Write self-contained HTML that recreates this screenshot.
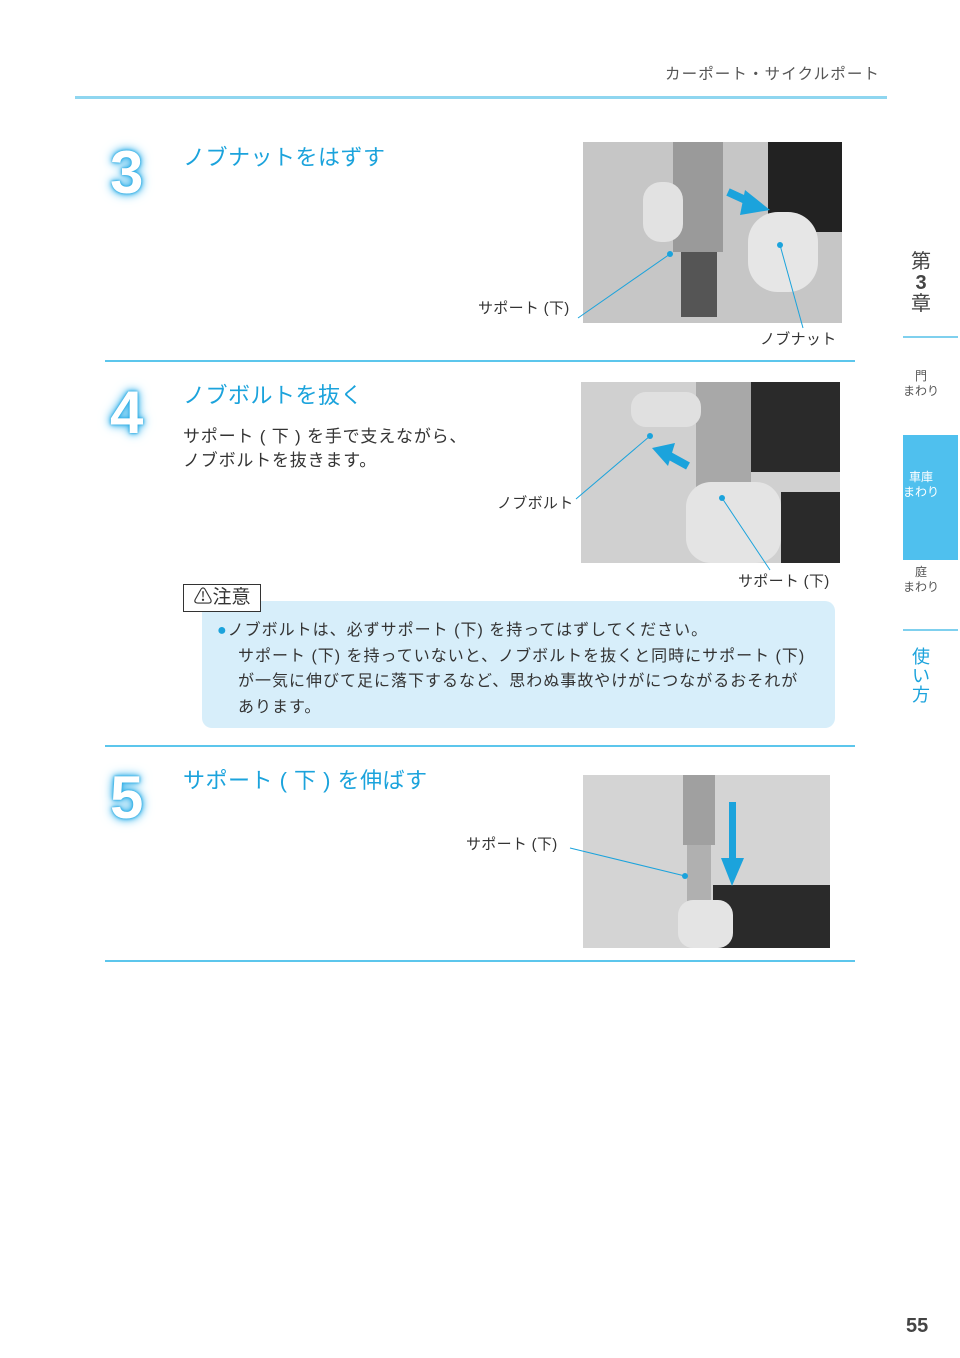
<!DOCTYPE html>
<html><head><meta charset="utf-8"><style>
body{margin:0;width:960px;height:1358px;background:#fff;position:relative;font-family:"Liberation Sans","Noto Sans CJK JP",sans-serif;color:#333;overflow:hidden}
.a{position:absolute;white-space:nowrap}
.num{position:absolute;font-size:60px;font-weight:900;color:#fff;text-shadow:0 0 2px #1ba3dc,0 0 4px #3fb6ec,0 0 8px #3fb6ec,0 0 12px #6cc8f0;font-family:"Liberation Sans",sans-serif;line-height:1}
.ttl{position:absolute;font-size:22px;color:#1ba3dc;white-space:nowrap;letter-spacing:0.5px}
.hl{position:absolute;left:105px;width:750px;height:2px;background:#5cc6ec}
.ph{position:absolute;background:#cfcfcf;overflow:hidden}
.lbl{position:absolute;font-size:15px;color:#333;white-space:nowrap;letter-spacing:0.3px}
</style></head><body>
<div class="a" style="left:665px;top:62px;font-size:15.5px;letter-spacing:1.1px;color:#555">カーポート・サイクルポート</div>
<div class="a" style="left:75px;top:96px;width:812px;height:3px;background:#8fd6f0"></div>

<div class="num" style="left:110px;top:143px">3</div>
<div class="ttl" style="left:183px;top:140px">ノブナットをはずす</div>
<div class="ph" style="left:583px;top:142px;width:259px;height:181px;background:#c6c6c6">
 <div class="a" style="left:90px;top:0;width:50px;height:110px;background:#9a9a9a"></div>
 <div class="a" style="left:98px;top:110px;width:36px;height:65px;background:#555"></div>
 <div class="a" style="left:185px;top:0;width:74px;height:90px;background:#222"></div>
 <div class="a" style="left:165px;top:70px;width:70px;height:80px;background:#e6e6e6;border-radius:30px"></div>
 <div class="a" style="left:60px;top:40px;width:40px;height:60px;background:#e2e2e2;border-radius:18px"></div>
</div>
<div class="lbl" style="left:478px;top:297px">サポート (下)</div>
<div class="lbl" style="left:760px;top:328px">ノブナット</div>
<div class="hl" style="top:360px"></div>

<div class="num" style="left:110px;top:383px">4</div>
<div class="ttl" style="left:183px;top:378px">ノブボルトを抜く</div>
<div class="a" style="left:183px;top:425px;font-size:17px;letter-spacing:0.8px;line-height:24px">サポート ( 下 ) を手で支えながら、<br>ノブボルトを抜きます。</div>
<div class="ph" style="left:581px;top:382px;width:259px;height:181px;background:#d0d0d0">
 <div class="a" style="left:115px;top:0;width:55px;height:110px;background:#a8a8a8"></div>
 <div class="a" style="left:170px;top:0;width:89px;height:90px;background:#2a2a2a"></div>
 <div class="a" style="left:200px;top:110px;width:59px;height:71px;background:#2a2a2a"></div>
 <div class="a" style="left:105px;top:100px;width:95px;height:81px;background:#e4e4e4;border-radius:25px"></div>
 <div class="a" style="left:50px;top:10px;width:70px;height:35px;background:#e0e0e0;border-radius:15px"></div>
</div>
<div class="lbl" style="left:497px;top:492px">ノブボルト</div>
<div class="lbl" style="left:738px;top:570px">サポート (下)</div>

<div class="a" style="left:202px;top:601px;width:633px;height:127px;background:#d7eefa;border-radius:10px"></div>
<div class="a" style="left:183px;top:584px;width:76px;height:26px;border:1px solid #333;background:#fff;font-size:19px;line-height:26px;text-align:center">⚠注意</div>
<div class="a" style="left:217px;top:618px;font-size:16px;letter-spacing:1px;line-height:25.5px;color:#333"><span style="color:#1ba3dc">●</span>ノブボルトは、必ずサポート (下) を持ってはずしてください。</div>
<div class="a" style="left:238px;top:643.5px;font-size:16px;letter-spacing:1px;line-height:25.5px;color:#333">サポート (下) を持っていないと、ノブボルトを抜くと同時にサポート (下)<br>が一気に伸びて足に落下するなど、思わぬ事故やけがにつながるおそれが<br>あります。</div>
<div class="hl" style="top:745px"></div>

<div class="num" style="left:110px;top:768px">5</div>
<div class="ttl" style="left:183px;top:763px">サポート ( 下 ) を伸ばす</div>
<div class="ph" style="left:583px;top:775px;width:247px;height:173px;background:#d4d4d4">
 <div class="a" style="left:100px;top:0;width:32px;height:70px;background:#a0a0a0"></div>
 <div class="a" style="left:104px;top:70px;width:24px;height:60px;background:#b0b0b0"></div>
 <div class="a" style="left:130px;top:110px;width:117px;height:63px;background:#2a2a2a"></div>
 <div class="a" style="left:95px;top:125px;width:55px;height:48px;background:#e4e4e4;border-radius:15px"></div>
</div>
<div class="lbl" style="left:466px;top:833px">サポート (下)</div>
<div class="hl" style="top:960px"></div>

<svg class="a" style="left:0;top:0" width="960" height="1358">
 <line x1="578" y1="318" x2="670" y2="254" stroke="#1ba3dc" stroke-width="1"/>
 <circle cx="670" cy="254" r="3" fill="#1ba3dc"/>
 <line x1="803" y1="328" x2="780" y2="245" stroke="#1ba3dc" stroke-width="1"/>
 <circle cx="780" cy="245" r="3" fill="#1ba3dc"/>
 <line x1="576" y1="499" x2="650" y2="436" stroke="#1ba3dc" stroke-width="1"/>
 <circle cx="650" cy="436" r="3" fill="#1ba3dc"/>
 <line x1="770" y1="570" x2="722" y2="498" stroke="#1ba3dc" stroke-width="1"/>
 <circle cx="722" cy="498" r="3" fill="#1ba3dc"/>
 <line x1="570" y1="848" x2="685" y2="876" stroke="#1ba3dc" stroke-width="1"/>
 <circle cx="685" cy="876" r="3" fill="#1ba3dc"/>
 <line x1="728" y1="192" x2="752" y2="203" stroke="#1ba3dc" stroke-width="8"/>
 <polygon points="745,190 770,210 740,215" fill="#1ba3dc"/>
 <line x1="688" y1="466" x2="668" y2="455" stroke="#1ba3dc" stroke-width="8"/>
 <polygon points="652,448 675,443 668,466" fill="#1ba3dc"/>
 <rect x="729" y="802" width="7" height="58" fill="#1ba3dc"/><polygon points="721,858 744,858 732,886" fill="#1ba3dc"/>
</svg>

<div class="a" style="left:908px;top:252px;font-size:20px;line-height:21px;color:#444;text-align:center;width:26px">第<br><b>3</b><br>章</div>
<div class="a" style="left:903px;top:336px;width:55px;height:2px;background:#7fd0ee"></div>
<div class="a" style="left:903px;top:369px;width:36px;font-size:12px;line-height:15px;color:#555;text-align:center">門<br>まわり</div>
<div class="a" style="left:903px;top:435px;width:55px;height:125px;background:#4fc0ee"></div>
<div class="a" style="left:903px;top:470px;width:36px;font-size:12px;line-height:15px;color:#fff;text-align:center">車庫<br>まわり</div>
<div class="a" style="left:903px;top:565px;width:36px;font-size:12px;line-height:15px;color:#555;text-align:center">庭<br>まわり</div>
<div class="a" style="left:903px;top:629px;width:55px;height:2px;background:#7fd0ee"></div>
<div class="a" style="left:910px;top:648px;width:22px;font-size:18px;line-height:19px;color:#1ba3dc;text-align:center">使<br>い<br>方</div>
<div class="a" style="left:906px;top:1315px;font-size:20px;font-weight:bold;color:#444">55</div>
</body></html>
